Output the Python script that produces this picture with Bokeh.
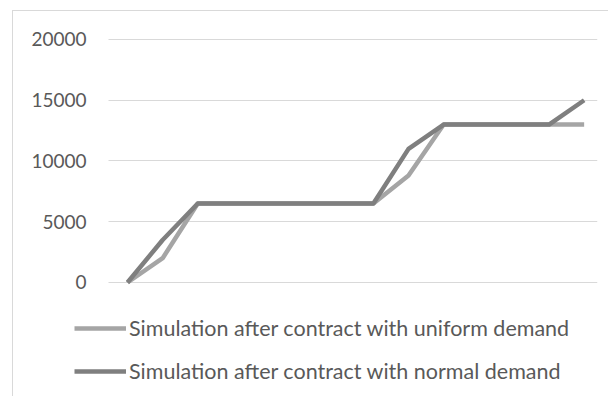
from bokeh.plotting import figure
from bokeh.models import ColumnDataSource, Legend, LegendItem, Range1d
from bokeh.core.properties import value
from bokeh.embed import file_html
from bokeh.resources import INLINE

# data
periods = list(range(1, 15))
uniform_demand = [0, 2000, 6500, 6500, 6500, 6500, 6500, 6500, 8800, 13000, 13000, 13000, 13000, 13000]
normal_demand = [0, 3500, 6500, 6500, 6500, 6500, 6500, 6500, 11000, 13000, 13000, 13000, 13000, 15000]
series_names = ["Simulation after contract with uniform demand",
                "Simulation after contract with normal demand"]
y_ticks = [0, 5000, 10000, 15000, 20000]
y_tick_labels = ["0", "5000", "10000", "15000", "20000"]

FONT = "Lato"
TXT = "#595959"

X0, X1 = 0.46, 14.38          # extent of the plotting area (category axis)
p = figure(width=596, height=386, output_backend="svg", toolbar_location=None,
           x_range=Range1d(-1.733, X1), y_range=Range1d(-9465, 21975),
           min_border_left=18, min_border_right=12, min_border_top=4, min_border_bottom=0)
p.styles = {"margin-left": "12px", "margin-top": "10px",
            "border-left": "1px solid #d9d9d9", "border-top": "1px solid #d9d9d9"}
p.outline_line_color = None
p.background_fill_color = "white"
p.border_fill_color = "white"
p.xaxis.visible = False
p.yaxis.visible = False
p.xgrid.visible = False
p.ygrid.ticker = y_ticks
p.ygrid.cross_bounds = (X0, X1)
p.ygrid.grid_line_color = "#d9d9d9"
p.ygrid.grid_line_width = 1.2

# y tick labels
p.text(x=[-0.167] * len(y_ticks), y=y_ticks, text=y_tick_labels,
       text_align="right", text_baseline="middle", text_font=value(FONT),
       text_font_size="19px", text_color=TXT)

src = ColumnDataSource(dict(x=periods, u=uniform_demand, n=normal_demand))
r_u = p.line("x", "u", source=src, line_color="#a5a5a5", line_width=4.5, line_join="round")
r_n = p.line("x", "n", source=src, line_color="#7f7f7f", line_width=4.5, line_join="round")

legend = Legend(items=[LegendItem(label=series_names[0], renderers=[r_u]),
                       LegendItem(label=series_names[1], renderers=[r_n])],
                location=(43, 12), orientation="vertical",
                padding=0, margin=0, spacing=15, label_standoff=3,
                glyph_width=52, glyph_height=28, label_height=28,
                label_text_font=FONT, label_text_font_size="21.5px", label_text_color=TXT,
                border_line_color=None, background_fill_alpha=0)
p.add_layout(legend, "center")

open("out.html", "w").write(file_html(p, INLINE))
